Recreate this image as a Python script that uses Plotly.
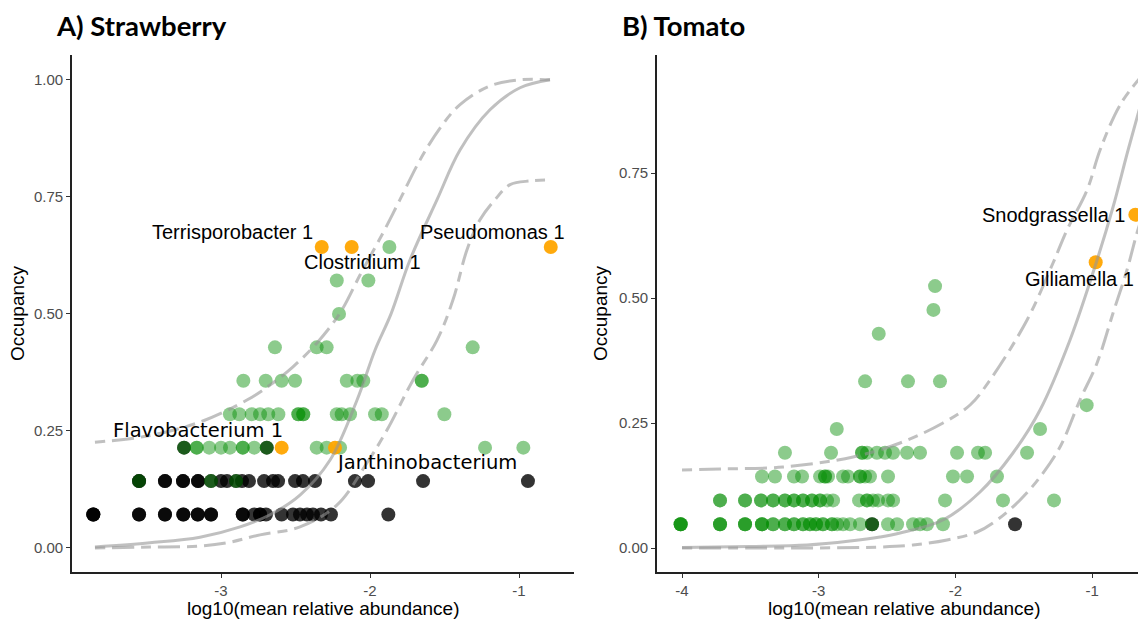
import plotly.graph_objects as go

# ---------------- DATA ----------------
# Panel A (Strawberry), occupancy levels k/14
A_black_x = {
    0.0714: [-3.857, -3.857, -3.857, -3.550, -3.550, -3.376, -3.376, -3.253, -3.253, -3.156, -3.156,
             -3.067, -3.067, -2.854, -2.854, -2.777, -2.738, -2.738, -2.698, -2.593, -2.517, -2.470,
             -2.423, -2.383, -2.329, -2.262, -1.877],
    0.1429: [-3.550, -3.550, -3.376, -3.376, -3.255, -3.255, -3.154, -3.154, -3.067, -3.000, -2.960,
             -2.899, -2.859, -2.812, -2.711, -2.651, -2.617, -2.503, -2.450, -2.369, -2.101, -2.013,
             -1.644, -0.940],
    0.2143: [-3.248, -2.693],
}
A_green_x = {
    0.1429: [-3.550, -3.067, -2.899],
    0.2143: [-3.248, -3.163, -3.163, -3.079, -3.000, -2.940, -2.854, -2.854, -2.777, -2.693,
             -2.358, -2.291, -2.201, -1.228, -0.971],
    0.2857: [-2.940, -2.877, -2.794, -2.738, -2.683, -2.615, -2.481, -2.481, -2.448, -2.448,
             -2.223, -2.190, -2.134, -1.966, -1.921, -1.501],
    0.3571: [-2.850, -2.700, -2.593, -2.503, -2.156, -2.085, -2.045, -1.653, -1.653],
    0.4286: [-2.638, -2.358, -2.291, -1.311],
    0.5: [-2.208],
    0.5714: [-2.223, -2.011],
    0.6429: [-1.870],
}
A_orange_x = [-2.593, -2.235, -2.324, -2.123, -0.787]
A_orange_y = [0.2143, 0.2143, 0.6429, 0.6429, 0.6429]
A_orange_labels = ["Flavobacterium 1", "Janthinobacterium", "Terrisporobacter 1", "Clostridium 1", "Pseudomonas 1"]

A_fit_x = [-3.846, -3.477, -3.141, -2.872, -2.671, -2.470, -2.268, -2.087, -1.966, -1.859,
           -1.732, -1.550, -1.396, -1.195, -0.993, -0.792]
A_fit_y = [0.002, 0.011, 0.023, 0.045, 0.071, 0.113, 0.188, 0.316, 0.423, 0.5,
           0.615, 0.744, 0.850, 0.936, 0.983, 1.0]
A_upper_x = [-3.846, -3.497, -3.141, -2.826, -2.671, -2.517, -2.356, -2.201, -2.067, -1.913,
             -1.799, -1.664, -1.530, -1.396, -1.195, -0.993, -0.792]
A_upper_y = [0.226, 0.239, 0.269, 0.316, 0.348, 0.387, 0.438, 0.502, 0.583, 0.673,
             0.744, 0.829, 0.897, 0.947, 0.987, 1.0, 1.0]
A_lower_x = [-3.846, -3.477, -3.141, -2.960, -2.738, -2.470, -2.221, -2.020, -1.886, -1.711,
             -1.550, -1.443, -1.349, -1.262, -1.161, -1.060, -0.926, -0.792]
A_lower_y = [0.0, 0.002, 0.004, 0.011, 0.028, 0.045, 0.092, 0.182, 0.252, 0.359,
             0.444, 0.530, 0.637, 0.701, 0.744, 0.776, 0.784, 0.786]

# Panel B (Tomato), occupancy levels k/21
B_black_x = {0.0476: [-2.610, -1.564]}
B_green_x = {
    0.0476: [-4.01, -4.01, -4.01, -4.01, -3.722, -3.722, -3.722, -3.539, -3.539, -3.539,
             -3.415, -3.415, -3.415, -3.334, -3.334, -3.247, -3.247, -3.181, -3.181, -3.115, -3.115,
             -3.064, -3.064, -3.020, -3.020, -2.969, -2.969, -2.903, -2.903, -2.866, -2.822, -2.771,
             -2.698, -2.610, -2.493, -2.427, -2.310, -2.259, -2.208, -2.091],
    0.0952: [-3.722, -3.722, -3.539, -3.539, -3.422, -3.422, -3.334, -3.334, -3.247, -3.247,
             -3.181, -3.181, -3.115, -3.115, -3.049, -3.049, -2.990, -2.990, -2.939, -2.895,
             -2.705, -2.647, -2.647, -2.603, -2.566, -2.493, -2.456, -2.076, -1.652, -1.279],
    0.1429: [-3.415, -3.320, -3.181, -3.122, -2.990, -2.954, -2.954, -2.932, -2.822, -2.786,
             -2.698, -2.698, -2.661, -2.625, -2.493, -2.018, -1.915, -1.696],
    0.1905: [-3.247, -2.910, -2.683, -2.683, -2.647, -2.574, -2.515, -2.456, -2.354, -2.259,
             -1.988, -1.835, -1.783, -1.476],
    0.2381: [-2.868, -1.381],
    0.2857: [-1.040],
    0.3333: [-2.661, -2.347, -2.113],
    0.4286: [-2.561],
    0.4762: [-2.161],
    0.5238: [-2.149],
}
B_orange_x = [-0.684, -0.974]
B_orange_y = [0.6667, 0.5714]
B_orange_labels = ["Snodgrassella 1", "Gilliamella 1"]

B_fit_x = [-4.0, -3.503, -3.086, -2.771, -2.552, -2.405, -2.091, -1.820, -1.579, -1.381,
           -1.162, -0.964, -0.847, -0.737, -0.606]
B_fit_y = [0.001, 0.003, 0.006, 0.014, 0.022, 0.030, 0.056, 0.112, 0.190, 0.276,
           0.416, 0.576, 0.682, 0.796, 0.926]
B_upper_x = [-4.0, -3.722, -3.261, -2.749, -2.405, -2.091, -1.893, -1.747, -1.476, -1.286,
             -1.184, -1.037, -0.942, -0.796, -0.650]
B_upper_y = [0.156, 0.158, 0.162, 0.182, 0.21, 0.25, 0.286, 0.336, 0.456, 0.57,
             0.636, 0.716, 0.796, 0.886, 0.94]
B_lower_x = [-4.0, -3.137, -2.552, -2.310, -2.061, -1.842, -1.696, -1.527, -1.381, -1.235,
             -1.089, -0.964, -0.847, -0.745, -0.672, -0.606]
B_lower_y = [0.0, 0.0, 0.002, 0.006, 0.016, 0.032, 0.056, 0.096, 0.142, 0.202,
             0.296, 0.37, 0.47, 0.556, 0.63, 0.686]

# ---------------- STYLE ----------------
PAGE_OFF = 8           # default body margin of the html page
W, H = 1146 - PAGE_OFF, 619 - PAGE_OFF


def px(x):  # page pixel -> paper x
    return (x - PAGE_OFF) / W


def py(y):  # page pixel -> paper y
    return 1 - (y - PAGE_OFF) / H


GREEN = "rgb(0,139,0)"
BLACK = "rgb(0,0,0)"
ORANGE = "rgb(255,165,0)"
LINE_COL = "rgba(150,150,150,0.6)"
DASH = "10px,7px,22px,7px"
MSIZE = 14
ARIAL = "Liberation Sans, Arial, sans-serif"
DEJAVU = "DejaVu Sans, sans-serif"
TITLE_FONT = "Lato, Open Sans, sans-serif"

# label offsets (pixels) relative to each orange point
A_label_style = [
    dict(xshift=-84, yshift=17, font=DEJAVU, size=19.5),
    dict(xshift=92, yshift=-15, font=DEJAVU, size=19.5),
    dict(xshift=-89, yshift=15, font=ARIAL, size=20),
    dict(xshift=11, yshift=-15, font=ARIAL, size=20),
    dict(xshift=-58, yshift=15, font=ARIAL, size=20),
]
B_label_style = [
    dict(xshift=-82, yshift=0, font=ARIAL, size=20),
    dict(xshift=-16, yshift=-17, font=ARIAL, size=20),
]


def flatten(d):
    xs, ys = [], []
    for lvl, arr in d.items():
        xs += arr
        ys += [lvl] * len(arr)
    return xs, ys


fig = go.Figure()


def add_panel(xa, ya, black, green, ox, oy, fx, fy, ux, uy, lx, ly):
    bx, by = flatten(black)
    gx, gy = flatten(green)
    fig.add_trace(go.Scatter(x=bx, y=by, mode="markers", xaxis=xa, yaxis=ya,
                             marker=dict(color=BLACK, size=MSIZE, opacity=0.8, line=dict(width=0))))
    fig.add_trace(go.Scatter(x=gx, y=gy, mode="markers", xaxis=xa, yaxis=ya,
                             marker=dict(color=GREEN, size=MSIZE, opacity=0.45, line=dict(width=0))))
    fig.add_trace(go.Scatter(x=ox, y=oy, mode="markers", xaxis=xa, yaxis=ya,
                             marker=dict(color=ORANGE, size=MSIZE, opacity=0.95, line=dict(width=0))))
    fig.add_trace(go.Scatter(x=fx, y=fy, mode="lines", xaxis=xa, yaxis=ya, line_shape="spline",
                             line=dict(color=LINE_COL, width=3)))
    fig.add_trace(go.Scatter(x=ux, y=uy, mode="lines", xaxis=xa, yaxis=ya, line_shape="spline",
                             line=dict(color=LINE_COL, width=3, dash=DASH)))
    fig.add_trace(go.Scatter(x=lx, y=ly, mode="lines", xaxis=xa, yaxis=ya, line_shape="spline",
                             line=dict(color=LINE_COL, width=3, dash=DASH)))


add_panel("x", "y", A_black_x, A_green_x, A_orange_x, A_orange_y,
          A_fit_x, A_fit_y, A_upper_x, A_upper_y, A_lower_x, A_lower_y)
add_panel("x2", "y2", B_black_x, B_green_x, B_orange_x, B_orange_y,
          B_fit_x, B_fit_y, B_upper_x, B_upper_y, B_lower_x, B_lower_y)

annotations = []
for x, y, t, s in zip(A_orange_x, A_orange_y, A_orange_labels, A_label_style):
    annotations.append(dict(x=x, y=y, xref="x", yref="y", text=t, showarrow=False,
                            xshift=s["xshift"], yshift=s["yshift"],
                            font=dict(family=s["font"], size=s["size"], color="black")))
for x, y, t, s in zip(B_orange_x, B_orange_y, B_orange_labels, B_label_style):
    annotations.append(dict(x=x, y=y, xref="x2", yref="y2", text=t, showarrow=False,
                            xshift=s["xshift"], yshift=s["yshift"],
                            font=dict(family=s["font"], size=s["size"], color="black")))

# panel titles
annotations.append(dict(x=px(54), y=py(25), xref="paper", yref="paper", text="<b>A) Strawberry</b>",
                        showarrow=False, xanchor="left", yanchor="middle",
                        font=dict(family=TITLE_FONT, size=27.5, color="black")))
annotations.append(dict(x=px(620), y=py(25), xref="paper", yref="paper", text="<b>B) Tomato</b>",
                        showarrow=False, xanchor="left", yanchor="middle",
                        font=dict(family=TITLE_FONT, size=27.5, color="black")))
# axis titles
for cx in (323, 904):
    annotations.append(dict(x=px(cx), y=py(608), xref="paper", yref="paper",
                            text="log10(mean relative abundance)", showarrow=False,
                            xanchor="center", yanchor="middle",
                            font=dict(family=ARIAL, size=19, color="black")))
for cx in (17, 600):
    annotations.append(dict(x=px(cx), y=py(313), xref="paper", yref="paper",
                            text="Occupancy", showarrow=False, textangle=-90,
                            xanchor="center", yanchor="middle",
                            font=dict(family=ARIAL, size=19, color="black")))

ydom = [py(572), py(55)]
axis_common = dict(showline=True, linecolor="#222", linewidth=1.6, showgrid=False, zeroline=False,
                   ticks="outside", ticklen=4, tickwidth=1.3, tickcolor="#333", automargin=False,
                   tickfont=dict(family=ARIAL, size=15, color="#4d4d4d"), mirror=False)

fig.update_layout(
    width=W, height=H, autosize=False,
    margin=dict(l=0, r=0, t=0, b=0, pad=0, autoexpand=False),
    paper_bgcolor="white", plot_bgcolor="white",
    showlegend=False,
    annotations=annotations,
    xaxis=dict(domain=[px(72), px(574)], range=[-4.0, -0.631], anchor="y",
               tickvals=[-3, -2, -1], ticktext=["-3", "-2", "-1"], **axis_common),
    yaxis=dict(domain=ydom, range=[-0.0513, 1.053], anchor="x",
               tickvals=[0, 0.25, 0.5, 0.75, 1.0], ticktext=["0.00", "0.25", "0.50", "0.75", "1.00"],
               **axis_common),
    xaxis2=dict(domain=[px(657), 1.0], range=[-4.183, -0.606], anchor="y2",
                tickvals=[-4, -3, -2, -1], ticktext=["-4", "-3", "-2", "-1"], **axis_common),
    yaxis2=dict(domain=ydom, range=[-0.048, 0.986], anchor="x2",
                tickvals=[0, 0.25, 0.5, 0.75], ticktext=["0.00", "0.25", "0.50", "0.75"],
                **axis_common),
)

fig.write_html("out.html")
